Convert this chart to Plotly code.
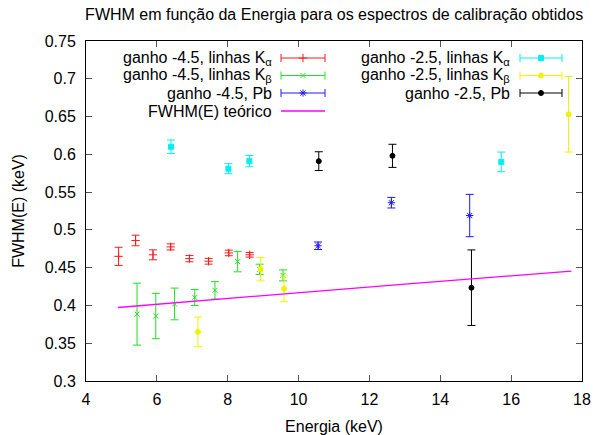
import plotly.graph_objects as go

# ---- data ----
E_ka45 = [4.92, 5.40, 5.89, 6.39, 6.92, 7.46, 8.03, 8.62]
F_ka45 = [0.465, 0.486, 0.467, 0.4775, 0.462, 0.4585, 0.4695, 0.467]
S_ka45 = [0.012, 0.007, 0.0066, 0.004, 0.0042, 0.0038, 0.0037, 0.003]

E_kb45 = [5.44, 5.97, 6.50, 7.07, 7.64, 8.28, 8.90, 9.56]
F_kb45 = [0.3885, 0.386, 0.402, 0.4106, 0.420, 0.458, 0.4478, 0.4398]
S_kb45 = [0.041, 0.030, 0.021, 0.0106, 0.0115, 0.0135, 0.0068, 0.0073]

E_pb45 = [10.55, 12.62, 14.83]
F_pb45 = [0.479, 0.536, 0.519]
S_pb45 = [0.005, 0.007, 0.028]

E_ka25 = [6.40, 8.02, 8.61, 15.72]
F_ka25 = [0.610, 0.581, 0.591, 0.590]
S_ka25 = [0.009, 0.0066, 0.0075, 0.013]

E_kb25 = [7.16, 8.93, 9.59, 17.62]
F_kb25 = [0.365, 0.448, 0.422, 0.653]
S_kb25 = [0.0197, 0.0155, 0.017, 0.050]

E_pb25 = [10.57, 12.65, 14.88]
F_pb25 = [0.591, 0.598, 0.4235]
S_pb25 = [0.0124, 0.0153, 0.050]

E_teo = [4.9, 7.0, 10.0, 13.0, 16.0, 17.7]
F_teo = [0.3973, 0.4055, 0.4170, 0.4283, 0.4392, 0.4453]

x_ticks = [4, 6, 8, 10, 12, 14, 16, 18]
y_ticks = [0.3, 0.35, 0.4, 0.45, 0.5, 0.55, 0.6, 0.65, 0.7, 0.75]
y_ticktext = ["0.3", "0.35", "0.4", "0.45", "0.5", "0.55", "0.6", "0.65", "0.7", "0.75"]

series = [
    ("ganho -4.5, linhas K<sub>α</sub>", E_ka45, F_ka45, S_ka45, "#ff1a1a", "cross-thin-open", 6),
    ("ganho -4.5, linhas K<sub>β</sub>", E_kb45, F_kb45, S_kb45, "#22e022", "x-thin-open", 5),
    ("ganho -4.5, Pb", E_pb45, F_pb45, S_pb45, "#1a1aff", "asterisk-open", 6),
    ("ganho -2.5, linhas K<sub>α</sub>", E_ka25, F_ka25, S_ka25, "#00f0f0", "square", 5),
    ("ganho -2.5, linhas K<sub>β</sub>", E_kb25, F_kb25, S_kb25, "#f2f200", "circle", 5),
    ("ganho -2.5, Pb", E_pb25, F_pb25, S_pb25, "#000000", "circle", 5),
]

FONT = "Liberation Sans, Arial, sans-serif"
FS = 16
fig = go.Figure()

for name, xs, ys, es, col, sym, sz in series:
    fig.add_trace(go.Scatter(
        x=xs, y=ys, mode="markers", name=name, showlegend=False,
        marker=dict(color=col, symbol=sym, size=sz, line=dict(color=col, width=1)),
        error_y=dict(type="data", array=es, visible=True, color=col, thickness=1, width=4),
    ))

fig.add_trace(go.Scatter(x=E_teo, y=F_teo, mode="lines", name="FWHM(E) teórico",
                         showlegend=False, line=dict(color="#ff00ff", width=1.3)))

# ---- custom gnuplot-style key (text left, sample right) on pixel-like overlay axes ----
key_rows = [58, 75.5, 93]
for i, (name, xs, ys, es, col, sym, sz) in enumerate(series):
    col_idx = 0 if i < 3 else 1
    row = key_rows[i % 3]
    xc = 303 if col_idx == 0 else 541
    half = 22 if col_idx == 0 else 21
    fig.add_trace(go.Scatter(
        x=[xc], y=[row], xaxis="x2", yaxis="y2", mode="markers", showlegend=False,
        hoverinfo="skip",
        marker=dict(color=col, symbol=sym, size=sz, line=dict(color=col, width=1)),
        error_x=dict(type="constant", value=half, visible=True, color=col, thickness=1, width=4),
    ))
    fig.add_annotation(x=274 if col_idx == 0 else 512, y=row, xref="x2", yref="y2",
                       text=name, showarrow=False, xanchor="right", yanchor="middle",
                       font=dict(family=FONT, size=FS, color="black"))

fig.add_trace(go.Scatter(x=[281, 325], y=[111, 111], xaxis="x2", yaxis="y2", mode="lines",
                         showlegend=False, hoverinfo="skip",
                         line=dict(color="#ff00ff", width=1.3)))
fig.add_annotation(x=274, y=111, xref="x2", yref="y2", text="FWHM(E) teórico",
                   showarrow=False, xanchor="right", yanchor="middle",
                   font=dict(family=FONT, size=FS, color="black"))

fig.update_layout(
    width=594, height=435,
    margin=dict(l=86, r=12, t=41, b=54),
    paper_bgcolor="white", plot_bgcolor="white",
    font=dict(family=FONT, size=FS, color="black"),
    title=dict(text="FWHM em função da Energia para os espectros de calibração obtidos",
               x=0.5625, xanchor="center", y=0.967, yanchor="middle",
               font=dict(family=FONT, size=FS, color="black")),
    showlegend=False,
    xaxis=dict(range=[4, 18], tickvals=x_ticks, ticks="inside", ticklen=6, tickcolor="#555",
               showline=True, linecolor="black", linewidth=1, mirror="ticks",
               showgrid=False, zeroline=False, ticklabelstandoff=4, automargin=False,
               tickfont=dict(size=FS),
               title=dict(text="Energia (keV)", standoff=14, font=dict(size=FS))),
    yaxis=dict(range=[0.3, 0.75], tickvals=y_ticks, ticktext=y_ticktext, ticks="inside",
               ticklen=6, tickcolor="#555", ticklabelstandoff=6, automargin=False,
               showline=True, linecolor="black", linewidth=1, mirror="ticks",
               showgrid=False, zeroline=False, tickfont=dict(size=FS),
               title=dict(text="FWHM(E) (keV)", standoff=16, font=dict(size=FS))),
    xaxis2=dict(range=[86, 582], overlaying="x", visible=False, fixedrange=True),
    yaxis2=dict(range=[381, 41], overlaying="y", visible=False, fixedrange=True),
)

fig.write_html("out.html")
